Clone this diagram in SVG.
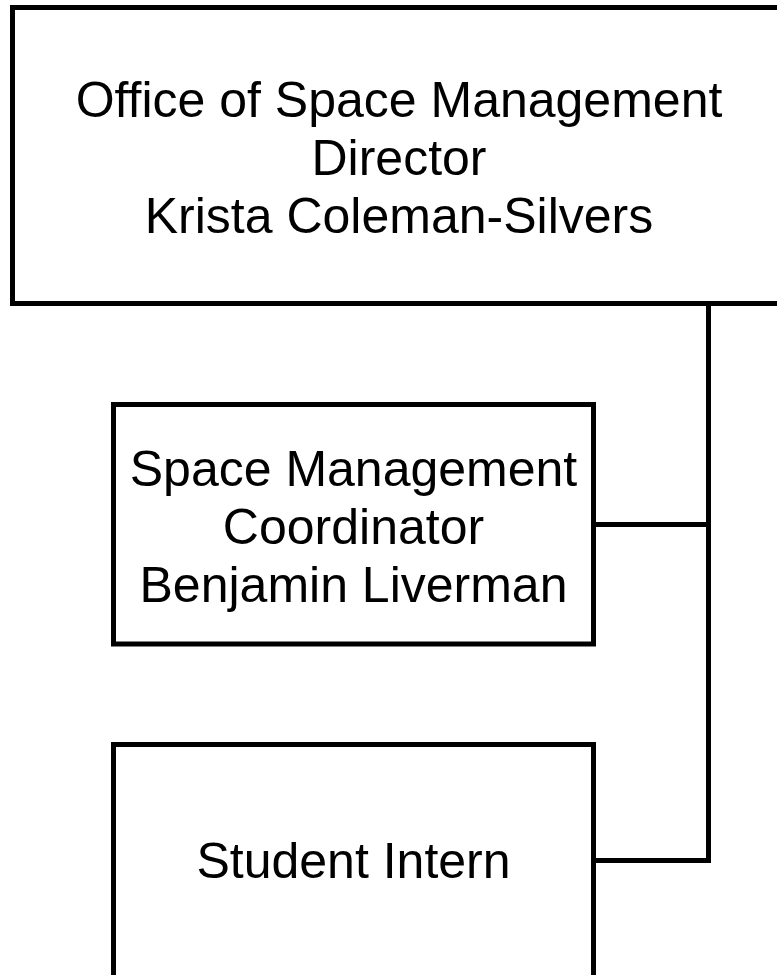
<svg xmlns="http://www.w3.org/2000/svg" width="777" height="975" viewBox="0 0 777 975">
<style>
.box{fill:#fff;stroke:#000;stroke-width:5}
.lbl{font-family:"Liberation Sans",Arial,sans-serif;font-size:50px;fill:#000;text-anchor:middle}
.conn{fill:none;stroke:#000;stroke-width:5}
</style>
<rect width="777" height="975" fill="#fff"/>
<g id="connectors">
<polyline class="conn" points="708.5,303.5 708.5,860.5 593.5,860.5"/>
<line class="conn" x1="593.5" y1="524.5" x2="708.5" y2="524.5"/>
</g>
<g id="director">
<rect class="box" x="12.5" y="7.5" width="773" height="296"/>
<text class="lbl" x="399" y="117">Office of Space Management</text>
<text class="lbl" x="399" y="175">Director</text>
<text class="lbl" x="399" y="233">Krista Coleman-Silvers</text>
</g>
<g id="coordinator">
<rect class="box" x="113.5" y="404.5" width="480" height="239.5"/>
<text class="lbl" x="353.5" y="486">Space Management</text>
<text class="lbl" x="353.5" y="544">Coordinator</text>
<text class="lbl" x="353.5" y="602">Benjamin Liverman</text>
</g>
<g id="intern">
<rect class="box" x="113.5" y="744.5" width="480" height="250"/>
<text class="lbl" x="353.5" y="878">Student Intern</text>
</g>
</svg>
